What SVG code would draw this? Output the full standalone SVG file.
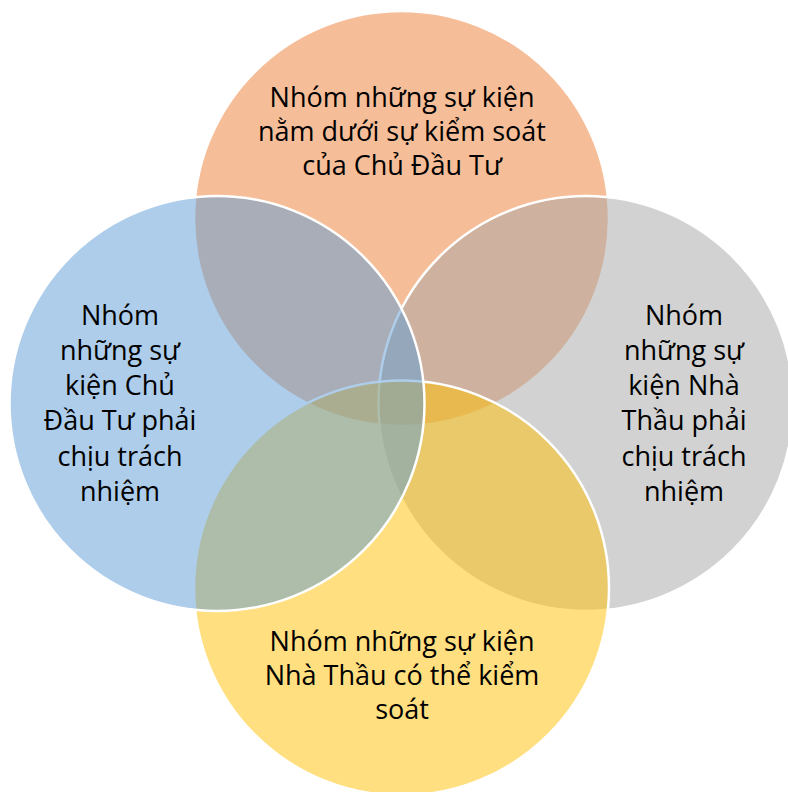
<svg xmlns="http://www.w3.org/2000/svg" width="788" height="792" viewBox="0 0 788 792">
<style>
.c{stroke:#FFFFFF;stroke-width:2.5;fill-opacity:0.5}
.t{font-family:"Open Sans","Liberation Sans",sans-serif;font-size:27px;fill:#000000;text-anchor:middle}
</style>
<rect x="0" y="0" width="788" height="792" fill="#FFFFFF"/>
<g id="top">
<circle class="c" cx="401.5" cy="218.5" r="207.5" fill="#ED7D31"/>
<text class="t"><tspan x="402" y="107">Nhóm những sự kiện</tspan><tspan x="402" y="141">nằm dưới sự kiểm soát</tspan><tspan x="402" y="175">của Chủ Đầu Tư</tspan></text>
</g>
<g id="right">
<circle class="c" cx="586" cy="403.5" r="207.5" fill="#A5A5A5"/>
<text class="t"><tspan x="684" y="325">Nhóm</tspan><tspan x="684" y="360">những sự</tspan><tspan x="684" y="395">kiện Nhà</tspan><tspan x="684" y="430">Thầu phải</tspan><tspan x="684" y="465.5">chịu trách</tspan><tspan x="684" y="500.5">nhiệm</tspan></text>
</g>
<g id="bottom">
<circle class="c" cx="401.5" cy="588" r="207.5" fill="#FFC000"/>
<text class="t"><tspan x="402" y="651">Nhóm những sự kiện</tspan><tspan x="402" y="685">Nhà Thầu có thể kiểm</tspan><tspan x="402" y="719">soát</tspan></text>
</g>
<g id="left">
<circle class="c" cx="217" cy="403.5" r="207.5" fill="#5B9BD5"/>
<text class="t"><tspan x="120" y="325">Nhóm</tspan><tspan x="120" y="360">những sự</tspan><tspan x="120" y="395">kiện Chủ</tspan><tspan x="120" y="430">Đầu Tư phải</tspan><tspan x="120" y="465.5">chịu trách</tspan><tspan x="120" y="500.5">nhiệm</tspan></text>
</g>
<g id="connectors"></g>
</svg>
